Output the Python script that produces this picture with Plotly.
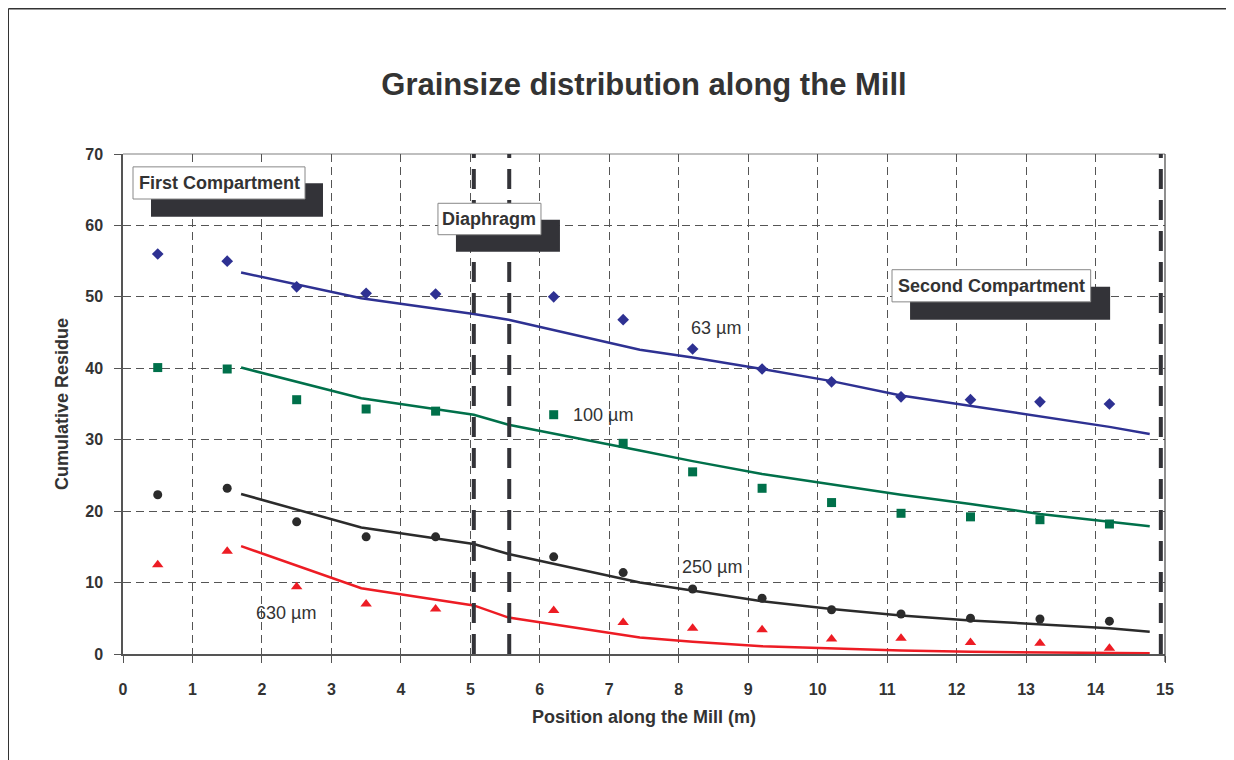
import plotly.graph_objects as go

# ---- data ----
x_obs = [0.5, 1.5, 2.5, 3.5, 4.5, 6.2, 7.2, 8.2, 9.2, 10.2, 11.2, 12.2, 13.2, 14.2]
obs_63 = [56.0, 55.0, 51.4, 50.5, 50.4, 50.0, 46.8, 42.7, 39.9, 38.1, 36.0, 35.6, 35.3, 35.0]
obs_100 = [40.1, 39.9, 35.6, 34.3, 34.0, 33.5, 29.5, 25.5, 23.2, 21.2, 19.7, 19.2, 18.8, 18.2]
obs_250 = [22.3, 23.2, 18.5, 16.4, 16.4, 13.6, 11.4, 9.1, 7.8, 6.2, 5.6, 5.0, 4.9, 4.6]
obs_630 = [12.5, 14.4, 9.4, 7.0, 6.3, 6.1, 4.4, 3.6, 3.4, 2.1, 2.2, 1.6, 1.5, 0.8]

x_model = [1.7, 3.43, 5.05, 5.55, 7.44, 8.2, 9.2, 10.2, 11.2, 12.2, 13.2, 14.2, 14.78]
mod_63 = [53.4, 49.8, 47.6, 46.8, 42.6, 41.5, 39.9, 38.2, 36.2, 34.7, 33.2, 31.8, 30.8]
mod_100 = [40.1, 35.8, 33.5, 32.1, 28.5, 27.0, 25.2, 23.7, 22.3, 21.0, 19.6, 18.5, 17.9]
mod_250 = [22.4, 17.7, 15.4, 14.0, 10.0, 8.9, 7.4, 6.3, 5.4, 4.7, 4.1, 3.6, 3.1]
mod_630 = [15.1, 9.2, 6.8, 5.1, 2.3, 1.7, 1.1, 0.75, 0.5, 0.3, 0.2, 0.12, 0.1]

series_names = ["63 µm", "100 µm", "250 µm", "630 µm"]
boundaries_x = [5.05, 5.56, 14.94]

x_ticks = list(range(0, 16))
y_ticks = list(range(0, 71, 10))

FONT = "Liberation Sans, Arial, sans-serif"
DARK = "#333333"

colors = ["#2E3192", "#00704A", "#2B2B2B", "#ED1C24"]
symbols = ["diamond", "square", "circle", "triangle-up"]
msizes = [9, 9, 9, 10]
obs_all = [obs_63, obs_100, obs_250, obs_630]
mod_all = [mod_63, mod_100, mod_250, mod_630]

# layout geometry (figure pixels)
ML, MT, PW, PH = 115, 146, 1042, 500
W, H = 1234, 760

fig = go.Figure()
for name, c, s, ms, ob, md in zip(series_names, colors, symbols, msizes, obs_all, mod_all):
    fig.add_trace(go.Scatter(x=x_model, y=md, mode="lines", line=dict(color=c, width=2.5),
                             name=name + " model", showlegend=False, hoverinfo="skip"))
    fig.add_trace(go.Scatter(x=x_obs, y=ob, mode="markers",
                             marker=dict(symbol=s, size=ms, color=c, line=dict(width=0)),
                             name=name, showlegend=False))

shapes = []
for bx in boundaries_x:
    shapes.append(dict(type="line", xref="x", yref="y", x0=bx, x1=bx, y0=0, y1=70.6,
                       line=dict(color="#333338", width=4, dash="20px,11px"), layer="above"))
shapes.append(dict(type="line", xref="paper", yref="paper", x0=0, x1=1, y0=1, y1=1,
                   line=dict(color="#AAAAAA", width=1.5), layer="below"))
shapes.append(dict(type="line", xref="paper", yref="paper", x0=1, x1=1, y0=-0.016, y1=1,
                   line=dict(color="#444444", width=1.2), layer="above"))

boxes = [
    ((0.144, 2.62, 63.7, 68.2), (0.403, 2.879, 61.2, 65.9), "First Compartment"),
    ((4.534, 6.017, 58.7, 63.1), (4.793, 6.29, 56.3, 60.8), "Diaphragm"),
    ((11.07, 13.93, 49.3, 53.8), (11.33, 14.21, 46.8, 51.4), "Second Compartment"),
]
annotations = []
for wb, sb, label in boxes:
    shapes.append(dict(type="rect", xref="x", yref="y", x0=sb[0], x1=sb[1], y0=sb[2], y1=sb[3],
                       fillcolor="#333338", line=dict(width=0), layer="above"))
    shapes.append(dict(type="rect", xref="x", yref="y", x0=wb[0], x1=wb[1], y0=wb[2], y1=wb[3],
                       fillcolor="white", line=dict(color="#888888", width=1), layer="above"))
    annotations.append(dict(x=(wb[0] + wb[1]) / 2, y=(wb[2] + wb[3]) / 2, xref="x", yref="y",
                            text="<b>" + label + "</b>", showarrow=False,
                            font=dict(family=FONT, size=18, color=DARK)))

label_pos = [(8.54, 45.6), (6.91, 33.5), (8.48, 12.2), (2.35, 5.7)]
for name, (lx, ly) in zip(series_names, label_pos):
    annotations.append(dict(x=lx, y=ly, xref="x", yref="y", text=name, showarrow=False,
                            font=dict(family=FONT, size=18, color=DARK)))

annotations.append(dict(x=0.5, y=-0.126, xref="paper", yref="paper", text="<b>Position along the Mill (m)</b>",
                        showarrow=False, font=dict(family=FONT, size=18, color=DARK), yanchor="middle"))
annotations.append(dict(x=-0.0585, y=0.5, xref="paper", yref="paper", text="<b>Cumulative Residue</b>",
                        showarrow=False, textangle=-90, font=dict(family=FONT, size=18, color=DARK),
                        xanchor="center"))

# outer frame at figure edge
fx = (0.5 - ML) / PW
fy = (MT + PH - 0.5) / PH
shapes.append(dict(type="line", xref="paper", yref="paper", x0=fx, x1=(W - ML) / PW, y0=fy, y1=fy,
                   line=dict(color="#333333", width=2)))
shapes.append(dict(type="line", xref="paper", yref="paper", x0=fx, x1=fx, y0=fy, y1=-0.3,
                   line=dict(color="#333333", width=1)))

fig.update_layout(
    width=W, height=H,
    margin=dict(l=ML, r=W - ML - PW, t=MT, b=H - MT - PH),
    paper_bgcolor="white", plot_bgcolor="white",
    title=dict(text="<b>Grainsize distribution along the Mill</b>", x=0.5, xref="paper",
               y=1 - 76 / H, yref="container", yanchor="middle", xanchor="center",
               font=dict(family=FONT, size=31, color=DARK)),
    shapes=shapes, annotations=annotations,
    showlegend=False,
)
fig.update_xaxes(range=[0, 15], tickvals=x_ticks, ticktext=[str(v) for v in x_ticks],
                 showgrid=True, gridcolor="#555555", gridwidth=1, griddash="8px,5px",
                 showline=True, linecolor="#555555", linewidth=1.5,
                 ticks="outside", ticklen=7, tickcolor="#555555", tickwidth=1,
                 tickfont=dict(family=FONT, size=16, color=DARK, weight="bold"),
                 ticklabelstandoff=13, zeroline=False, fixedrange=True)
fig.update_yaxes(range=[0, 70], tickvals=y_ticks, ticktext=[str(v) for v in y_ticks],
                 showgrid=True, gridcolor="#555555", gridwidth=1, griddash="8px,5px",
                 showline=True, linecolor="#555555", linewidth=1.5,
                 ticks="outside", ticklen=7, tickcolor="#555555", tickwidth=1,
                 tickfont=dict(family=FONT, size=16, color=DARK, weight="bold"),
                 ticklabelstandoff=8, zeroline=False, fixedrange=True)

fig.write_html("out.html")
